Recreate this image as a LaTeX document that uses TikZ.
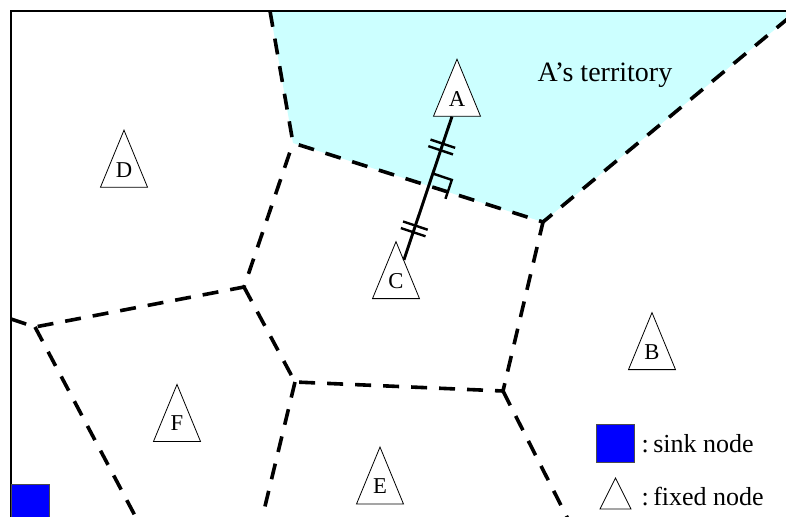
\documentclass[tikz,border=0pt]{standalone}
\usepackage{fontspec}
\setmainfont{Liberation Serif}
\usetikzlibrary{calc}
\usetikzlibrary{shapes.geometric}
\definecolor{territory}{RGB}{204,255,255}
\definecolor{sinkblue}{RGB}{0,0,255}

\begin{document}
\begin{tikzpicture}[x=0.75pt,y=-0.75pt,
    cell/.style={line width=2.7pt,dash pattern=on 12pt off 9pt},
    fixed/.style={isosceles triangle,shape border rotate=90,isosceles triangle stretches,
        minimum width=35.25pt,minimum height=42.75pt,inner sep=0pt,
        draw,fill=white,line width=0.6pt,font=\fontsize{17}{17}\selectfont},
    sink/.style={draw=black!70,fill=sinkblue,line width=0.5pt,minimum size=28.5pt,inner sep=0pt},
    tick/.style={line width=1.8pt}]

    \useasboundingbox (0,0) rectangle (786,517);
    \clip (0,0) rectangle (786,517);

    % A's cell
    \fill[territory] (270,11) -- (293,143) -- (543,222) -- (797,11) -- cycle;
    \node (terr) at (605,75) {\fontsize{21}{21}\selectfont A’s territory};

    % cell borders
    \draw[cell] (270,11) -- (293,143) -- (543,222) -- (797,11);
    \draw[cell] (11,319) -- (35,327) -- (244,287) -- (293,143);
    \draw[cell] (35,327) -- (141,527);
    \draw[cell] (244,287) -- (295,382) -- (503,391) -- (543,222);
    \draw[cell] (295,382) -- (260,527);
    \draw[cell] (503,391) -- (572,527);

    \draw[line width=1.5pt] (11,530) -- (11,11) -- (800,11);

    % fixed nodes
    \node[fixed] (A) at (457,101.5) {\raisebox{3.7pt}{A}};
    \node[fixed] (B) at (652,354.5) {\raisebox{3.7pt}{B}};
    \node[fixed] (C) at (396,283.5) {\raisebox{3.7pt}{C}};
    \node[fixed] (D) at (124,172.5) {\raisebox{3.7pt}{D}};
    \node[fixed] (E) at (380,488.5) {\raisebox{3.7pt}{E}};
    \node[fixed] (F) at (177,425.5) {\raisebox{3.7pt}{F}};

    \draw[line width=2.2pt] (A) -- (C);
    \path (A.center) -- (C.center) coordinate[pos=0.25] (t1) coordinate[pos=0.5] (m) coordinate[pos=0.7] (t2);
    \foreach \t in {t1,t2}
        \foreach \s in {2.6pt,-2.6pt}
        {\coordinate (q) at ($(\t)!\s!(A.center)$);
         \draw[tick] ($(q)!9.75pt!90:(A.center)$) -- ($(q)!9.75pt!-90:(A.center)$);}
    \coordinate (r1) at ($(m)!15pt!(A.center)$);
    \coordinate (r2) at ($(m)!15pt!-90:(A.center)$);
    \draw[tick] (r1) -- ($(r1)+(r2)-(m)$) -- (r2);

    % sink node
    \node[sink] (sink) at (30,503) {};

    % legend
    \node[sink] (keysink) at (615,443.5) {};
    \node[anchor=west,font=\fontsize{19.5}{20}\selectfont] (keysinktext) at (637,443.5) {:\,sink node};
    \node[fixed,minimum width=23.25pt,minimum height=23.25pt] (keyfixed) at (615.5,499.5) {};
    \node[anchor=west,font=\fontsize{19.5}{20}\selectfont] (keyfixedtext) at (637,497) {:\,fixed node};

\end{tikzpicture}
\end{document}
